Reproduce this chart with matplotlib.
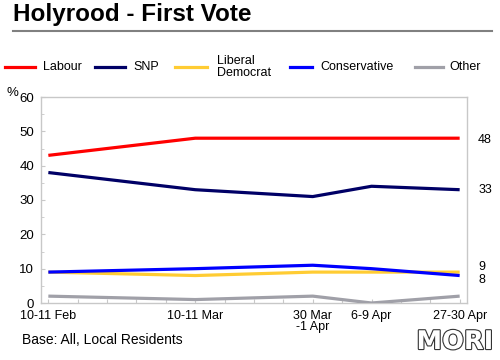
import matplotlib.pyplot as plt
import matplotlib.patheffects as pe

plt.rcParams["font.family"] = ["Liberation Sans", "DejaVu Sans"]

# --------------------------------------------------
# Data
# --------------------------------------------------

slots = ["10-11 Feb", "", "", "", "", "10-11 Mar", "", "", "",
         "30 Mar\n-1 Apr", "", "6-9 Apr", "", "", "27-30 Apr"]

labour = [43, None, None, None, None, 48, None, None, None, 48, None, 48, None, None, 48]
snp = [38, None, None, None, None, 33, None, None, None, 31, None, 34, None, None, 33]
libdem = [9, None, None, None, None, 8, None, None, None, 9, None, 9, None, None, 9]
conservative = [9, None, None, None, None, 10, None, None, None, 11, None, 10, None, None, 8]
other = [2, None, None, None, None, 1, None, None, None, 2, None, 0, None, None, 2]

end_labels = ["48", "33", "9", "8"]
end_label_pos = [47.5, 33, 10.6, 6.6]

series = [
    ("Labour", labour, "#ff0000"),
    ("SNP", snp, "#000066"),
    ("Liberal\nDemocrat", libdem, "#ffcc33"),
    ("Conservative", conservative, "#0000ff"),
    ("Other", other, "#a0a0a8"),
]

# --------------------------------------------------
# Figure
# --------------------------------------------------

fig = plt.figure(figsize=(5, 3.6), dpi=100)
ax = fig.add_axes([41 / 500, 1 - 303 / 360, 426 / 500, 206 / 360])

draw_order = [4, 2, 3, 1, 0]
for i in draw_order:
    name, values, color = series[i]
    xs = [k for k, v in enumerate(values) if v is not None]
    ys = [v for v in values if v is not None]
    ax.plot(xs, ys, color=color, lw=2.3, solid_capstyle="butt", zorder=3 + i)

ax.set_xlim(-0.25, len(slots) - 0.75)
ax.set_ylim(0, 60)

ax.set_yticks(range(0, 61, 10))
ax.set_yticks(range(5, 60, 10), minor=True)
ax.set_xticks(range(len(slots)))
ax.set_xticklabels(slots, fontsize=9, linespacing=0.95)

ax.tick_params(axis="both", direction="in", color="#c8c8c8", length=3, width=0.8)
ax.tick_params(axis="y", which="minor", direction="in", color="#c8c8c8", length=2)
ax.tick_params(axis="x", pad=5)
ax.tick_params(axis="y", labelsize=9.5, pad=5)

for s in ax.spines.values():
    s.set_color("#c8c8c8")
    s.set_linewidth(1)

for lab, v in zip(end_labels, end_label_pos):
    ax.annotate(lab, xy=(1, v), xycoords=("axes fraction", "data"),
                xytext=(8, 0), textcoords="offset points",
                fontsize=9, va="center", ha="left")

# --------------------------------------------------
# Title, legend, notes
# --------------------------------------------------

fig.text(13 / 500, 1 - 14 / 360, "Holyrood - First Vote", fontsize=17.5,
         fontweight="bold", va="center", ha="left")
fig.add_artist(plt.Line2D([13 / 500, 492 / 500], [1 - 31 / 360, 1 - 31 / 360],
                          color="#808080", lw=1.5))

legend_x = [(5, 35, 43), (95, 125, 133), (175, 207, 217), (290, 312, 320), (415, 443, 449)]
for (name, values, color), (x0, x1, tx) in zip(series, legend_x):
    y = 1 - 67 / 360
    fig.add_artist(plt.Line2D([x0 / 500, x1 / 500], [y, y], color=color, lw=2.3))
    fig.text(tx / 500, y, name, fontsize=9, va="center", ha="left",
             linespacing=1.1)

fig.text(12 / 500, 1 - 93 / 360, "%", fontsize=9.5, va="center", ha="center")
fig.text(22 / 500, 1 - 340 / 360, "Base: All, Local Residents", fontsize=10,
         va="center", ha="left")
fig.text(455 / 500, 1 - 342 / 360, "MORI", fontsize=18.5, fontweight="bold",
         family="DejaVu Sans", va="center", ha="center", color="white",
         path_effects=[pe.withStroke(linewidth=1.6, foreground="#333333")])

plt.savefig("out.png", dpi=100)
plt.close()
